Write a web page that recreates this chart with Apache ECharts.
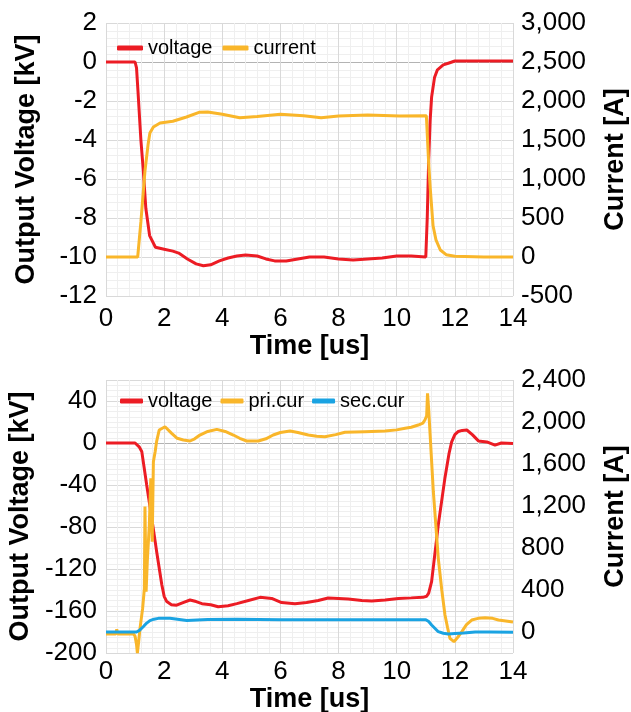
<!DOCTYPE html>
<html><head><meta charset="utf-8">
<script src="https://cdn.jsdelivr.net/npm/echarts@6/dist/echarts.min.js"></script>
<style>html,body{margin:0;padding:0;background:#fff}#c{width:631px;height:712px}</style>
</head><body><div id="c"></div>
<script>
const FONT = '"Liberation Sans", Arial, Helvetica, sans-serif';
const RED = '#ec1c24', ORANGE = '#f9b62a', BLUE = '#1aa3e2';

// ---- Top chart data ----
const topVoltT = [0, 1.0, 1.05, 1.1, 1.2, 1.28, 1.37, 1.5, 1.7, 2.0, 2.3, 2.5, 2.8, 3.1, 3.35, 3.6, 3.9, 4.2, 4.5, 4.8, 5.2, 5.5, 5.8, 6.2, 6.6, 7.0, 7.5, 8.0, 8.5, 9.0, 9.5, 10.0, 10.5, 11.0, 11.05, 11.1, 11.15, 11.2, 11.3, 11.4, 11.6, 11.8, 12.0, 13.0, 14.0];
const topVoltV = [0, 0, -0.3, -1.5, -4.0, -5.5, -7.5, -8.9, -9.5, -9.6, -9.7, -9.8, -10.1, -10.35, -10.45, -10.4, -10.2, -10.05, -9.95, -9.9, -9.95, -10.1, -10.2, -10.2, -10.1, -10.0, -10.0, -10.1, -10.15, -10.1, -10.05, -9.95, -9.95, -10.0, -8.0, -5.0, -3.0, -1.8, -0.8, -0.4, -0.15, -0.05, 0.05, 0.05, 0.05];
const topCurT = [0, 1.09, 1.2, 1.34, 1.45, 1.51, 1.63, 1.86, 2.3, 2.77, 3.2, 3.5, 4.0, 4.6, 5.2, 6.0, 6.8, 7.4, 8.0, 9.0, 10.1, 11.02, 11.1, 11.15, 11.2, 11.25, 11.35, 11.5, 11.7, 12.0, 13.0, 14.0];
const topCurI = [0, 0, 450, 1100, 1450, 1590, 1667, 1718, 1740, 1795, 1855, 1860, 1830, 1785, 1800, 1830, 1810, 1785, 1808, 1820, 1808, 1810, 1200, 900, 650, 400, 220, 90, 30, 10, 0, 0];

// ---- Bottom chart data ----
const botVoltT = [0, 1.0, 1.05, 1.15, 1.23, 1.4, 1.57, 1.74, 1.92, 2.0, 2.09, 2.25, 2.43, 2.65, 2.89, 3.1, 3.3, 3.6, 3.86, 4.2, 4.5, 4.9, 5.3, 5.7, 6.04, 6.5, 6.9, 7.3, 7.64, 8.0, 8.33, 8.8, 9.14, 9.6, 10.06, 10.5, 10.9, 11.03, 11.1, 11.2, 11.43, 11.66, 11.8, 11.89, 12.0, 12.12, 12.25, 12.41, 12.6, 12.81, 13.1, 13.38, 13.6, 14.0];
const botVoltV = [0, 0, -1, -4, -8, -40, -71, -103, -135, -146, -151, -154, -154.5, -152, -149.5, -151, -153, -154, -156, -155, -153, -150, -147, -148, -152, -153, -152, -150, -147.6, -148, -148.6, -150, -150.5, -149.5, -148, -147.5, -147, -146, -143, -132, -78, -33, -10, 1, 8, 11, 12, 12.4, 8, 2, 1, -2, 0, -0.5];
const botPriT = [0, 0.34, 0.37, 0.4, 0.95, 1.0, 1.05, 1.08, 1.12, 1.17, 1.26, 1.32, 1.34, 1.38, 1.42, 1.49, 1.54, 1.59, 1.63, 1.69, 1.74, 1.83, 2.03, 2.26, 2.45, 2.66, 2.89, 3.05, 3.23, 3.5, 3.81, 4.1, 4.38, 4.6, 4.84, 5.24, 5.5, 5.75, 6.0, 6.33, 6.6, 6.96, 7.25, 7.53, 7.9, 8.22, 8.9, 9.6, 10.0, 10.29, 10.5, 10.74, 10.9, 10.97, 11.03, 11.06, 11.1, 11.26, 11.43, 11.55, 11.66, 11.75, 11.83, 11.97, 12.1, 12.24, 12.4, 12.58, 12.8, 13.04, 13.3, 13.5, 13.75, 14.0];
const botPriI = [-20, -20, 25, -20, -20, -40, -120, -200, -100, 35, 225, 416, 1194, 384, 670, 1019, 1463, 860, 1622, 1717, 1813, 1924, 1955, 1892, 1845, 1829, 1819, 1840, 1876, 1910, 1930, 1910, 1876, 1845, 1819, 1819, 1840, 1876, 1900, 1914, 1900, 1876, 1865, 1860, 1880, 1902, 1908, 1914, 1925, 1940, 1950, 1971, 1990, 2019, 2060, 2273, 2120, 1336, 702, 400, 162, 40, -60, -92, -50, 3, 70, 114, 130, 136, 130, 114, 105, 95];
const botSecT = [0, 1.05, 1.15, 1.28, 1.4, 1.51, 1.65, 1.8, 2.2, 2.78, 3.5, 4.5, 6.0, 8.0, 10.0, 11.0, 11.1, 11.2, 11.43, 11.6, 11.78, 12.0, 12.3, 12.7, 13.2, 14.0];
const botSecI = [0, 0, 15, 50, 85, 108, 122, 130, 130, 110, 118, 121, 117, 117, 117, 117, 100, 67, 3, -12, -19, -15, -10, 0, 0, -3];

// ---- Axis settings ----
const timeRange = [0, 14, 2];
const topVoltRange = [-12, 2, 2];
const topCurRange = [-500, 3000, 500];
const botVoltRange = [-200, 60, 40];
const botCurRange = [-200, 2400, 200];
const botCurLabelStep = 400;

const zip = (a, b) => a.map((x, i) => [x, b[i]]);
const comma = v => String(v).replace(/\B(?=(\d{3})+(?!\d))/g, ',');

const MAJOR = '#d9d9d9', MINOR = '#efefef', ZERO = '#b3b3b3';
const NAME_STYLE = {fontSize: 27, fontWeight: 'bold', color: '#000', fontFamily: FONT};

function xAx(gridIndex, margin, gap) {
  return {
    type: 'value', gridIndex, min: timeRange[0], max: timeRange[1], interval: timeRange[2],
    axisLine: {show: false}, axisTick: {show: false},
    axisLabel: {fontSize: 26, color: '#000', fontFamily: FONT, margin},
    splitLine: {show: true, lineStyle: {color: MAJOR, width: 1}},
    minorTick: {show: false, splitNumber: 5},
    minorSplitLine: {show: true, lineStyle: {color: MINOR, width: 1}},
    name: 'Time [us]', nameLocation: 'middle', nameGap: gap,
    nameTextStyle: NAME_STYLE
  };
}
function yLeft(gridIndex, r, minorSplit, zeroIndex, nLines) {
  const cols = [];
  for (let i = 0; i < nLines; i++) cols.push(i === zeroIndex ? ZERO : MAJOR);
  return {
    type: 'value', gridIndex, position: 'left', min: r[0], max: r[1], interval: r[2],
    axisLine: {show: false}, axisTick: {show: false},
    axisLabel: {fontSize: 26, color: '#000', fontFamily: FONT, margin: 9, showMaxLabel: r[1] % r[2] === 0},
    splitLine: {show: true, lineStyle: {color: cols, width: 1}},
    minorTick: {show: false, splitNumber: minorSplit},
    minorSplitLine: {show: true, lineStyle: {color: MINOR, width: 1}},
    name: 'Output Voltage [kV]', nameLocation: 'middle', nameGap: 66,
    nameTextStyle: NAME_STYLE
  };
}
function yRight(gridIndex, r, fmt) {
  return {
    type: 'value', gridIndex, position: 'right', min: r[0], max: r[1], interval: r[2],
    axisLine: {show: false}, axisTick: {show: false},
    axisLabel: {fontSize: 26, color: '#000', fontFamily: FONT, margin: 8, formatter: fmt},
    splitLine: {show: false},
    name: 'Current [A]', nameLocation: 'middle', nameGap: 89,
    nameTextStyle: NAME_STYLE
  };
}
function line(name, data, color, xi, yi, z) {
  return {
    name, type: 'line', data, xAxisIndex: xi, yAxisIndex: yi, showSymbol: false, symbol: 'none',
    lineStyle: {color, width: 3}, itemStyle: {color}, z, silent: true
  };
}

const chart = echarts.init(document.getElementById('c'), null, {renderer: 'canvas'});
chart.setOption({
  animation: false,
  backgroundColor: '#fff',
  textStyle: {fontFamily: FONT},
  grid: [
    {left: 106, top: 23, width: 407, height: 273, containLabel: false, outerBoundsMode: 'none'},
    {left: 106, top: 380, width: 407, height: 273, containLabel: false, outerBoundsMode: 'none'}
  ],
  legend: [
    {data: ['voltage', 'current'], left: 112, top: 33, icon: 'roundRect', itemWidth: 26, itemHeight: 5,
     itemGap: 10, textStyle: {fontSize: 20, color: '#000', fontFamily: FONT}},
    {data: ['voltage', 'pri.cur', 'sec.cur'], left: 115, top: 386, icon: 'roundRect', itemWidth: 23, itemHeight: 5,
     itemGap: 8, textStyle: {fontSize: 20, color: '#000', fontFamily: FONT}}
  ],
  xAxis: [xAx(0, 10, 36), xAx(1, 6, 32)],
  yAxis: [
    yLeft(0, topVoltRange, 5, 6, 8),
    yRight(0, topCurRange, v => comma(v)),
    yLeft(1, botVoltRange, 8, 5, 8),
    yRight(1, botCurRange, v => (v >= 0 && v % botCurLabelStep === 0) ? comma(v) : '')
  ],
  series: [
    line('voltage', zip(topVoltT, topVoltV), RED, 0, 0, 2),
    line('current', zip(topCurT, topCurI), ORANGE, 0, 1, 3),
    line('voltage', zip(botVoltT, botVoltV), RED, 1, 2, 2),
    line('pri.cur', zip(botPriT, botPriI), ORANGE, 1, 3, 3),
    line('sec.cur', zip(botSecT, botSecI), BLUE, 1, 3, 4)
  ]
});
</script></body></html>
